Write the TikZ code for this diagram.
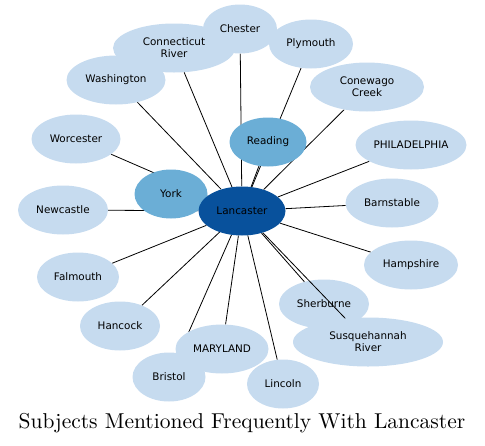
\documentclass[tikz,border=0pt]{standalone}
\usepackage{fontspec}
\usepackage{tikz}
\usetikzlibrary{shapes.geometric}
\newfontfamily\labelfont{DejaVu Sans}
\newfontfamily\titlefont{lmroman10-regular}[Extension=.otf]
\definecolor{SubjLight}{HTML}{C6DBEF}
\definecolor{SubjMid}{HTML}{6BAED6}
\definecolor{SubjDark}{HTML}{08519C}
\pgfdeclarelayer{under}
\pgfdeclarelayer{links}
\pgfsetlayers{under,links,main}

\begin{document}
\begin{tikzpicture}[x=1pt, y=-1pt,
  subj/.style={ellipse, fill=SubjLight, inner sep=0pt, minimum height=49pt,
    align=center, font=\labelfont\fontsize{10.4}{12}\selectfont},
  link/.style={line width=0.8pt}]
  \useasboundingbox (0,0) rectangle (485,445);
  % outer ring of subjects
  \foreach \nm/\x/\y/\w/\lbl in {
    chester/240/29/74/Chester,
    connecticut/174/48/122/{Connecticut\\River},
    plymouth/311/44/84/Plymouth,
    washington/116/80/99/Washington,
    conewago/367/87/114/{Conewago\\Creek},
    worcester/76/139/89/Worcester,
    philadelphia/411/145/111/PHILADELPHIA,
    newcastle/63/210/90/Newcastle,
    barnstable/392/203/93/Barnstable,
    falmouth/78/277/82/Falmouth,
    hampshire/411/265/94/Hampshire,
    hancock/120/326/80/Hancock,
    susquehannah/368/342/150/{Susquehannah\\River},
    maryland/222/349/93/MARYLAND,
    bristol/169/377/73/Bristol,
    lincoln/283/384/72/Lincoln}{
    \node[subj, minimum width=\w pt] (\nm) at (\x,\y) {\lbl};
  }
  \begin{pgfonlayer}{under}
    \node[subj, minimum width=90pt] (sherburne) at (324,304) {Sherburne};
  \end{pgfonlayer}
  % inner subjects
  \node[subj, fill=SubjMid, minimum width=73pt] (york) at (171,194) {York};
  \node[subj, fill=SubjMid, minimum width=77pt] (reading) at (268,142) {Reading};
  \node[subj, fill=SubjDark, minimum width=87pt] (lancaster) at (242,211) {Lancaster};
  \begin{pgfonlayer}{links}
    \foreach \t in {york, reading, chester, connecticut, plymouth, washington,
      conewago, worcester, philadelphia, newcastle, barnstable, falmouth,
      hampshire, hancock, sherburne, susquehannah, maryland, bristol, lincoln}
      \draw[link] (lancaster) -- (\t);
  \end{pgfonlayer}
  \node[font=\titlefont\fontsize{21.5}{24}\selectfont] (title) at (242,423)
    {Subjects Mentioned Frequently With Lancaster};
\end{tikzpicture}
\end{document}
